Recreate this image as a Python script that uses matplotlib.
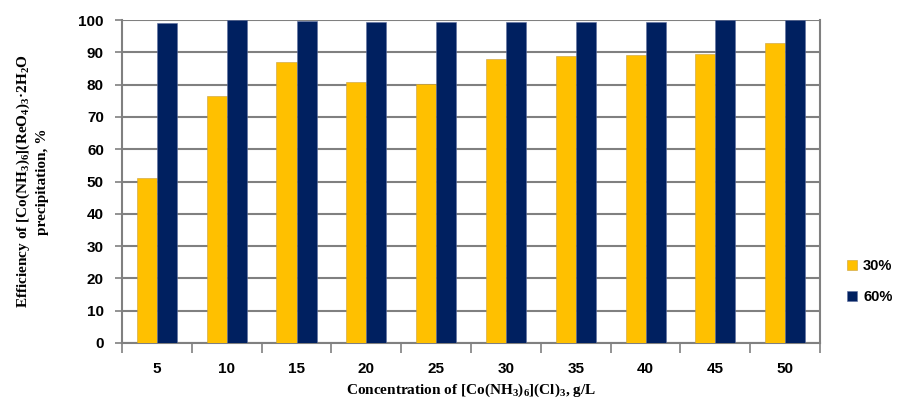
import numpy as np
import matplotlib
matplotlib.use("Agg")
import matplotlib.pyplot as plt

# concentration of the precipitant, g/L
conc = ["5", "10", "15", "20", "25", "30", "35", "40", "45", "50"]
eff_30 = [51.0, 76.6, 87.0, 80.8, 80.1, 87.8, 89.0, 89.2, 89.5, 93.0]
eff_60 = [99.2, 100.0, 99.8, 99.5, 99.5, 99.5, 99.5, 99.5, 100.0, 100.0]
series_names = ["30%", "60%"]

plt.rcParams["mathtext.fontset"] = "custom"
plt.rcParams["mathtext.rm"] = "Liberation Serif:bold"
plt.rcParams["mathtext.it"] = "Liberation Serif:bold"
plt.rcParams["mathtext.bf"] = "Liberation Serif:bold"

fig = plt.figure(figsize=(8.99, 4.0), dpi=100)
ax = fig.add_axes([0.1357, 0.1425, 0.7765, 0.8075])

x = np.arange(len(conc))
w = 0.287
ax.bar(x - w / 2, eff_30, w, color="#FFC000", edgecolor="#C8A040", linewidth=0.4,
       label=series_names[0], zorder=3)
ax.bar(x + w / 2, eff_60, w, color="#002060", edgecolor="#6070A0", linewidth=0.4,
       label=series_names[1], zorder=3)

ax.set_xlim(-0.5, len(conc) - 0.5)
ax.set_ylim(0, 100)
ax.set_yticks(range(0, 101, 10))
ax.yaxis.grid(True, color="#808080", linewidth=1.5, zorder=0)

# ticks between categories, labels centred under the groups
ax.set_xticks(np.arange(-0.5, len(conc), 1.0))
ax.set_xticklabels([])
ax.set_xticks(x, minor=True)
ax.set_xticklabels(conc, minor=True)
ax.tick_params(axis="x", which="major", length=7, width=1.2, color="#808080")
ax.tick_params(axis="x", which="minor", length=0, pad=14)
ax.tick_params(axis="y", length=5, width=1.2, color="#808080", pad=8)

for lbl in ax.get_xticklabels(minor=True) + ax.get_yticklabels():
    lbl.set_fontfamily("Liberation Sans")
    lbl.set_fontweight("bold")
    lbl.set_fontsize(11)

for side in ["left", "right", "bottom", "top"]:
    ax.spines[side].set_color("#808080")
    ax.spines[side].set_linewidth(1.5)
ax.spines["top"].set_visible(False)

ax.set_xlabel("Concentration of [Co(NH$_3$)$_6$](Cl)$_3$, g/L",
              fontfamily="Liberation Serif", fontweight="bold", fontsize=11)
ax.xaxis.set_label_coords(0.5, -0.12)
ax.set_ylabel("Efficiency of [Co(NH$_3$)$_6$](ReO$_4$)$_3$·2H$_2$O\nprecipitation, %",
              fontfamily="Liberation Serif", fontweight="bold", fontsize=11,
              linespacing=1.45)
ax.yaxis.set_label_coords(-0.104, 0.5)

leg = ax.legend(loc="center left", bbox_to_anchor=(1.02, 0.19), frameon=False,
                handlelength=0.7, handleheight=0.7, handletextpad=0.4, labelspacing=1.15,
                prop={"family": "Liberation Sans", "weight": "bold", "size": 10.5})

fig.savefig("out.png", dpi=100)
